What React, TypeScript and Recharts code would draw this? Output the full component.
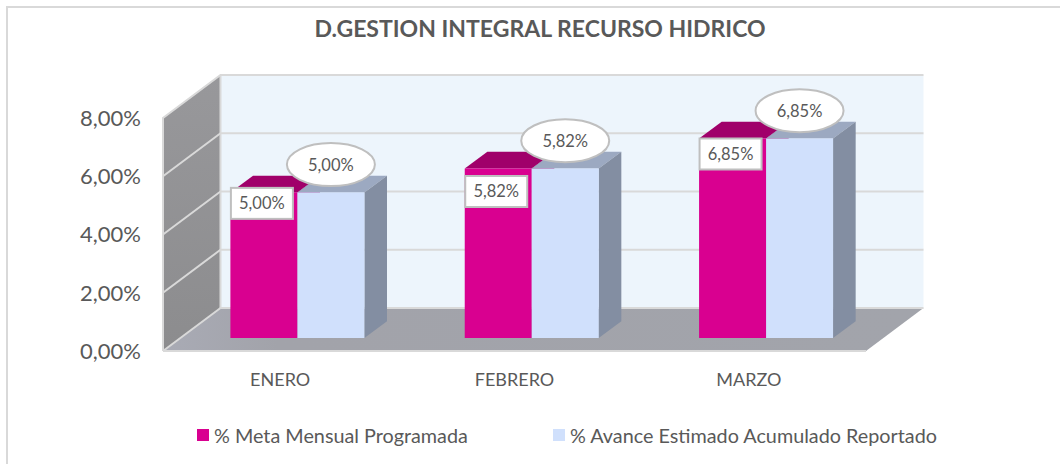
import { BarChart, Bar, XAxis, YAxis, ReferenceArea, LabelList, Legend } from 'recharts';

const months = ['ENERO', 'FEBRERO', 'MARZO'];
const metaMensual = [5.0, 5.82, 6.85];
const avanceEstimado = [5.0, 5.82, 6.85];
const yTicks = [0, 2, 4, 6, 8];

const data = months.map((month, i) => ({
  month,
  meta: metaMensual[i],
  avance: avanceEstimado[i],
}));

const FONT = 'Lato, sans-serif';
const TEXT = '#595959';
const GRID = '#d9d9d9';

// box depth of the fake 3d, wall and bars
const WALL_DX = 57.5;
const WALL_DY = -43;
const BAR_DX = 22.6;
const BAR_DY = -16.7;
// bars sit a bit inside the floor
const SHIFT_X = 17.4;
const SHIFT_Y = -13;
// the pink labels were dragged by hand in the original
const metaLabelDrop = [11, 23, 15.5];

const fmt = (v: number) => v.toFixed(2).replace('.', ',') + '%';

const poly = (pts: number[][]) => pts.map((p) => p.join(',')).join(' ');

const Walls = (props: any) => {
  const { x, y, width, height } = props;
  const bottom = y + height;
  const right = x + width;
  const lines = yTicks.slice(1, -1).map((t) => bottom - (height * t) / 8);
  return (
    <g>
      <defs>
        <linearGradient id="wallSide" x1="0" y1="0" x2="0" y2="1">
          <stop offset="0" stopColor="#98989b" />
          <stop offset="1" stopColor="#8c8c8e" />
        </linearGradient>
        <linearGradient id="floorGrad" x1="0" y1="0" x2="1" y2="0">
          <stop offset="0" stopColor="#a9abb5" />
          <stop offset="0.15" stopColor="#a2a3aa" />
          <stop offset="1" stopColor="#a2a4ab" />
        </linearGradient>
      </defs>
      <polygon
        points={poly([[x + WALL_DX, y + WALL_DY], [right + WALL_DX, y + WALL_DY], [right + WALL_DX, bottom + WALL_DY], [x + WALL_DX, bottom + WALL_DY]])}
        fill="#edf5fc"
      />
      <polygon
        points={poly([[x, y], [x + WALL_DX, y + WALL_DY], [x + WALL_DX, bottom + WALL_DY], [x, bottom]])}
        fill="url(#wallSide)"
      />
      <polygon
        points={poly([[x, bottom], [x + WALL_DX, bottom + WALL_DY], [right + WALL_DX, bottom + WALL_DY], [right, bottom]])}
        fill="url(#floorGrad)"
      />
      {lines.map((ly) => (
        <g key={ly} stroke={GRID} strokeWidth={2}>
          <line x1={x} y1={ly} x2={x + WALL_DX} y2={ly + WALL_DY} />
          <line x1={x + WALL_DX} y1={ly + WALL_DY} x2={right + WALL_DX} y2={ly + WALL_DY} />
        </g>
      ))}
      <g stroke={GRID} strokeWidth={2} fill="none">
        <path d={`M${x} ${bottom}L${x} ${y}L${x + WALL_DX} ${y + WALL_DY}L${right + WALL_DX} ${y + WALL_DY}`} />
        <path d={`M${x + WALL_DX} ${y + WALL_DY}L${x + WALL_DX} ${bottom + WALL_DY}L${right + WALL_DX} ${bottom + WALL_DY}`} />
        <path d={`M${x} ${bottom}L${x + WALL_DX} ${bottom + WALL_DY}`} />
        <path d={`M${x} ${bottom}L${right} ${bottom}`} />
      </g>
    </g>
  );
};

const Box = (props: any) => {
  const { x, y, width, height, fill, topFill, sideFill } = props;
  const l = x + SHIFT_X;
  const t = y + SHIFT_Y;
  const r = l + width;
  const b = t + height;
  return (
    <g>
      <polygon points={poly([[l, t], [l + BAR_DX, t + BAR_DY], [r + BAR_DX, t + BAR_DY], [r, t]])} fill={topFill} />
      <polygon points={poly([[r, t], [r + BAR_DX, t + BAR_DY], [r + BAR_DX, b + BAR_DY], [r, b]])} fill={sideFill} />
      <rect x={l} y={t} width={width} height={height} fill={fill} />
    </g>
  );
};

const MetaLabel = (props: any) => {
  const { x, y, value, index } = props;
  const cx = x + SHIFT_X + 31.5;
  const cy = y + SHIFT_Y + metaLabelDrop[index];
  return (
    <g>
      <rect x={cx - 31} y={cy - 15.5} width={62} height={31} fill="#fff" stroke="#bfbfbf" strokeWidth={2} />
      <text x={cx} y={cy} textAnchor="middle" dominantBaseline="central" fontFamily={FONT} fontSize={16.5} fill={TEXT}>
        {fmt(value)}
      </text>
    </g>
  );
};

const AvanceLabel = (props: any) => {
  const { x, y, width, value } = props;
  const cx = x + SHIFT_X + width / 2;
  const cy = y + SHIFT_Y - 27.8;
  return (
    <g>
      <ellipse cx={cx} cy={cy} rx={44} ry={21.5} fill="#fff" stroke="#bfbfbf" strokeWidth={2} />
      <text x={cx} y={cy} textAnchor="middle" dominantBaseline="central" fontFamily={FONT} fontSize={16.5} fill={TEXT}>
        {fmt(value)}
      </text>
    </g>
  );
};

const LegendRow = (props: any) => (
  <div style={{ position: 'relative', height: 30, fontFamily: FONT, fontSize: 19.8, color: TEXT }}>
    {(props.payload || []).map((item: any, i: number) => (
      <div key={item.value} style={{ position: 'absolute', top: 0, left: i === 0 ? 197 : 553, display: 'flex', alignItems: 'center', whiteSpace: 'nowrap', height: 30 }}>
        <span style={{ width: 12, height: 12, marginRight: 5, background: item.color, display: 'inline-block' }} />
        {item.value}
      </div>
    ))}
  </div>
);

export default function App() {
  return (
    <div style={{ position: 'absolute', left: 0, top: 0, width: 1060, height: 464, background: '#fff', overflow: 'hidden' }}>
      <div style={{ position: 'absolute', left: 6, top: 6, width: 1060, height: 464, borderLeft: `2px solid ${GRID}`, borderTop: `2px solid ${GRID}` }} />
      <div style={{ position: 'absolute', left: 0, width: 1080, top: 14, textAlign: 'center', fontFamily: FONT, fontWeight: 700, fontSize: 23, color: TEXT }}>
        D.GESTION INTEGRAL RECURSO HIDRICO
      </div>
      <BarChart
        width={1060}
        height={464}
        data={data}
        barGap={0}
        barSize={67}
        margin={{ top: 88, right: 194, bottom: 0, left: 103 }}
        style={{ position: 'absolute', left: 0, top: 0 }}
      >
        <XAxis
          dataKey="month"
          height={113}
          axisLine={false}
          tickLine={false}
          tickSize={0}
          tickMargin={22}
          tick={{ fontFamily: FONT, fontSize: 18, fill: TEXT }}
        />
        <YAxis
          width={60}
          domain={[0, 8]}
          ticks={yTicks}
          axisLine={false}
          tickLine={false}
          tickSize={0}
          tickMargin={22}
          tickFormatter={fmt}
          tick={{ fontFamily: FONT, fontSize: 22, fill: TEXT }}
        />
        <ReferenceArea y1={0} y2={8} shape={Walls} />
        <Legend
          verticalAlign="top"
          itemSorter={null}
          content={LegendRow}
          wrapperStyle={{ position: 'absolute', left: 0, top: 420, width: 1060, height: 30 }}
        />
        <Bar
          dataKey="meta"
          name="% Meta Mensual Programada"
          fill="#d90090"
          isAnimationActive={false}
          shape={(p: any) => <Box {...p} topFill="#a0006a" sideFill="#a0006a" />}
        >
          <LabelList dataKey="meta" content={MetaLabel} />
        </Bar>
        <Bar
          dataKey="avance"
          name="% Avance Estimado Acumulado Reportado"
          fill="#d0e0fc"
          isAnimationActive={false}
          shape={(p: any) => <Box {...p} topFill="#9ca9c1" sideFill="#838ea2" />}
        >
          <LabelList dataKey="avance" content={AvanceLabel} />
        </Bar>
      </BarChart>
    </div>
  );
}
